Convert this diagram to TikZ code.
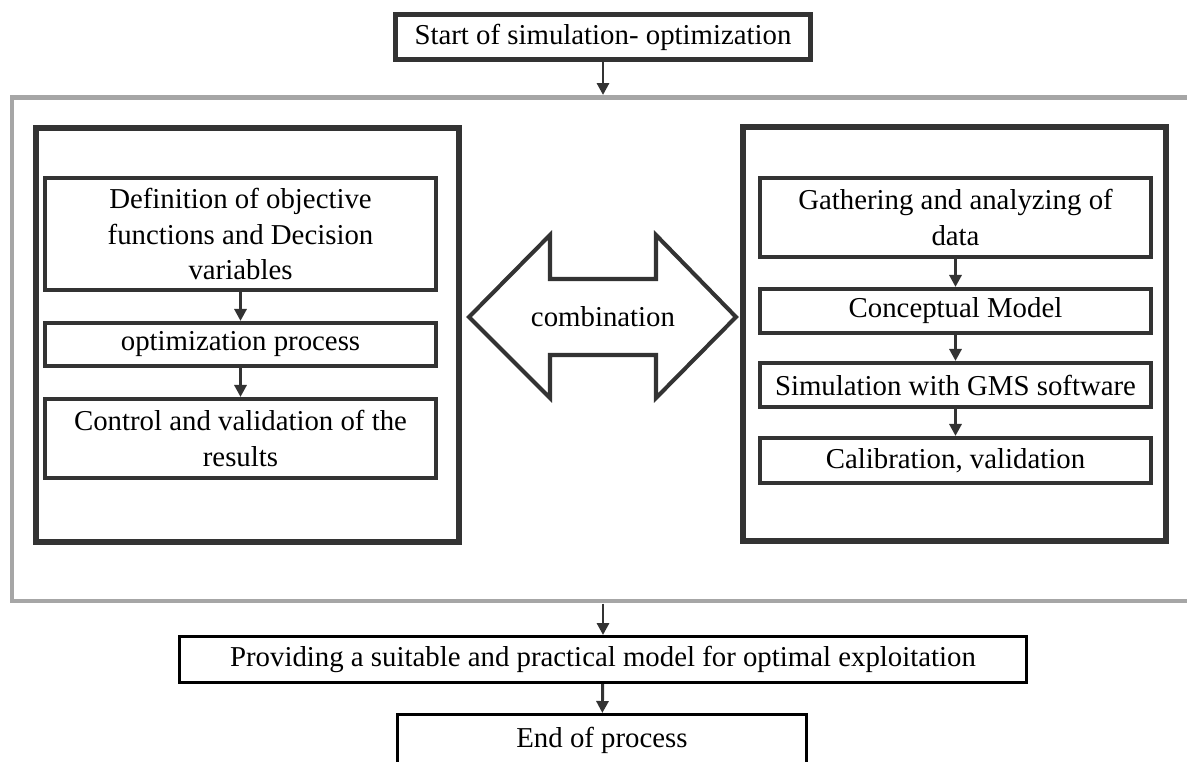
\documentclass[tikz,border=0pt]{standalone}
\usepackage{fontspec}
\setmainfont{Liberation Serif}
\usetikzlibrary{arrows.meta}
\definecolor{boxline}{HTML}{333333}
\definecolor{frame}{HTML}{A6A6A6}
\begin{document}
\begin{tikzpicture}[x=0.02cm, y=-0.02cm,
  font=\fontsize{16.4}{20}\selectfont,
  stepbox/.style={draw=boxline, line width=2.3pt, align=center,
    minimum width=7.82cm, inner sep=2pt},
  termbox/.style={draw=black, line width=1.7pt, align=center,
    minimum width=#1, minimum height=0.92cm, inner sep=2pt},
  groupbox/.style={draw=boxline, line width=3.4pt},
  flow/.style={-{Triangle[length=0.24cm, width=0.24cm]}, draw=boxline,
    line width=1.7pt}]
  \useasboundingbox (0,0) rectangle (1187,761);
  % outer frame, open on the right
  \draw[frame, line width=2.8pt] (1195,97.5) -- (12,97.5) -- (12,601) -- (1195,601);
  \coordinate (topin) at (603,95);
  \coordinate (botout) at (603,603.5);
  % the two groups
  \draw[groupbox] (36,128) rectangle (459,542);
  \draw[groupbox] (743,127) rectangle (1166,541);
  \node[draw=boxline, line width=2.8pt, minimum width=8.3cm, minimum height=0.9cm,
    inner sep=2pt] (start) at (603,37) {Start of simulation- optimization};
  % optimization side
  \node[stepbox, minimum height=2.24cm] (def) at (240.5,234)
    {Definition of objective\\functions and Decision\\variables};
  \node[stepbox, minimum height=0.86cm] (opt) at (240.5,344.5) {optimization process};
  \node[stepbox, minimum height=1.58cm] (ctrl) at (240.5,438.5)
    {Control and validation of the\\results};
  % simulation side
  \node[stepbox, minimum height=1.58cm] (gath) at (955.5,217.5)
    {Gathering and analyzing of\\data};
  \node[stepbox, minimum height=0.88cm] (concept) at (955.5,311) {Conceptual Model};
  \node[stepbox, minimum height=0.88cm] (simu) at (955.5,385) {Simulation with GMS software};
  \node[stepbox, minimum height=0.90cm] (calib) at (955.5,460.5) {Calibration, validation};
  % combination arrow
  \node (comb) at (603,317) {combination};
  \draw[boxline, line width=2.3pt, line join=miter]
    (469,317) -- (550,235) -- (550,279) -- (656,279) -- (656,235) -- (736,317)
    -- (656,398) -- (656,355) -- (550,355) -- (550,398) -- cycle;
  \node[termbox=16.94cm] (prov) at (603,659.5)
    {Providing a suitable and practical model for optimal exploitation};
  % bottom edge of this box lies below the page
  \node[termbox=8.18cm, minimum height=1.04cm] (endp) at (602,740.5) {End of process};
  % connectors
  \draw[flow] (start) -- (topin);
  \draw[flow] (def) -- (opt);
  \draw[flow] (opt) -- (ctrl);
  \draw[flow] (gath) -- (concept);
  \draw[flow] (concept) -- (simu);
  \draw[flow] (simu) -- (calib);
  \draw[flow] (botout) -- (prov);
  \draw[flow] (prov) -- (endp);
\end{tikzpicture}
\end{document}
